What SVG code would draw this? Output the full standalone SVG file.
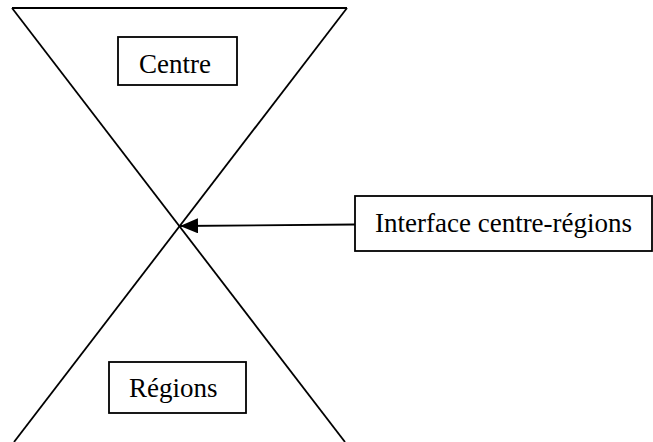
<svg xmlns="http://www.w3.org/2000/svg" width="653" height="442" viewBox="0 0 653 442">
<style>
.ln{stroke:#000;stroke-width:1.8;fill:none}
.bx{stroke:#000;stroke-width:1.8;fill:#fff}
.tx{font-family:"Liberation Serif","Times New Roman",serif;font-size:27px;fill:#000}
</style>
<defs>
<marker id="ah" markerWidth="18" markerHeight="15" refX="18" refY="7.5" orient="auto" markerUnits="userSpaceOnUse">
<path d="M0,0 L18,7.5 L0,15 Z" fill="#000"/>
</marker>
</defs>
<rect width="653" height="442" fill="#fff"/>
<g id="hourglass">
<line class="ln" x1="12" y1="8" x2="347" y2="8"/>
<line class="ln" x1="12" y1="8" x2="345" y2="442"/>
<line class="ln" x1="347" y1="8" x2="14" y2="442"/>
</g>
<g id="centre">
<rect class="bx" x="118" y="37" width="119" height="48"/>
<text class="tx" x="139" y="73">Centre</text>
</g>
<g id="regions">
<rect class="bx" x="109" y="362" width="137" height="51"/>
<text class="tx" x="129" y="397">Régions</text>
</g>
<g id="interface">
<rect class="bx" x="355" y="196" width="297" height="55"/>
<text class="tx" x="375" y="232">Interface centre-régions</text>
</g>
<g id="connectors">
<line class="ln" x1="355" y1="224.5" x2="180" y2="226" marker-end="url(#ah)"/>
</g>
</svg>
